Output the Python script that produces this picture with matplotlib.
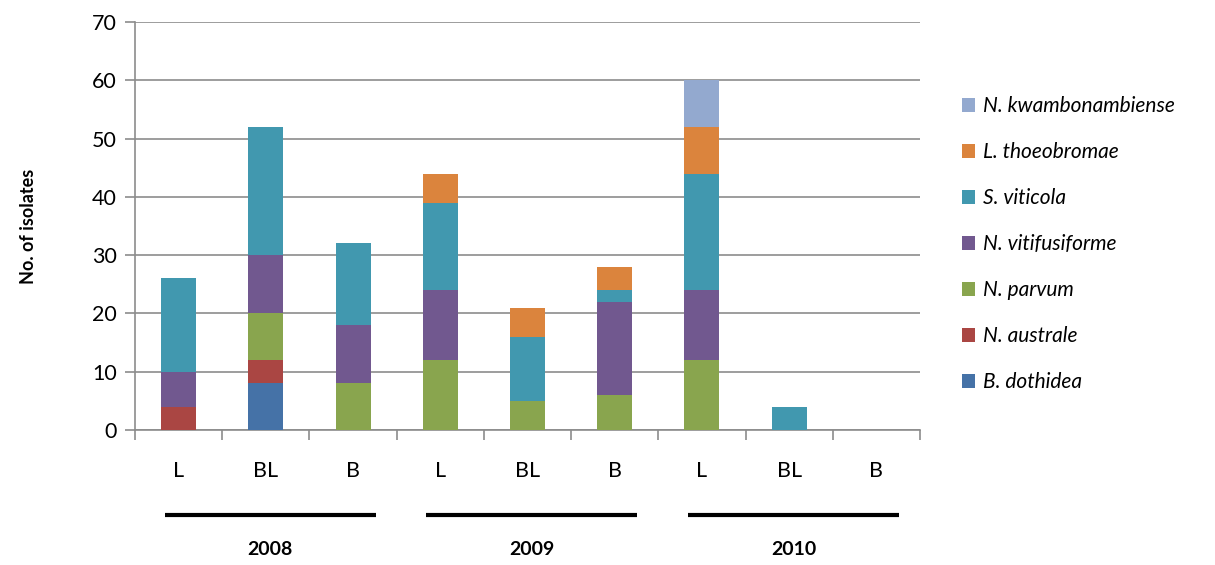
import numpy as np
import matplotlib.pyplot as plt
import matplotlib.transforms as mtransforms

plt.rcParams['font.family'] = ['Lato', 'DejaVu Sans']

categories = ['L', 'BL', 'B', 'L', 'BL', 'B', 'L', 'BL', 'B']
years = ['2008', '2009', '2010']

species = ['B. dothidea', 'N. australe', 'N. parvum', 'N. vitifusiforme',
           'S. viticola', 'L. thoeobromae', 'N. kwambonambiense']
b_dothidea = [0, 8, 0, 0, 0, 0, 0, 0, 0]
n_australe = [4, 4, 0, 0, 0, 0, 0, 0, 0]
n_parvum = [0, 8, 8, 12, 5, 6, 12, 0, 0]
n_vitifusiforme = [6, 10, 10, 12, 0, 16, 12, 0, 0]
s_viticola = [16, 22, 14, 15, 11, 2, 20, 4, 0]
l_thoeobromae = [0, 0, 0, 5, 5, 4, 8, 0, 0]
n_kwambonambiense = [0, 0, 0, 0, 0, 0, 8, 0, 0]

series = [b_dothidea, n_australe, n_parvum, n_vitifusiforme,
          s_viticola, l_thoeobromae, n_kwambonambiense]
colors = ['#4572A7', '#AA4643', '#89A54E', '#71588F',
          '#4198AF', '#DB843D', '#93A9CF']

fig = plt.figure(figsize=(12.15, 5.65), dpi=100)
ax = fig.add_axes([135 / 1215, 135 / 565, 785 / 1215, 408 / 565])

x = np.arange(len(categories))
bottom = np.zeros(len(categories))
for name, vals, c in zip(species, series, colors):
    ax.bar(x, vals, 0.4, bottom=bottom, color=c, label=name, zorder=3)
    bottom += np.array(vals)

ax.set_xlim(-0.5, 8.5)
ax.set_ylim(0, 70)
ax.set_yticks(range(0, 71, 10))
ax.yaxis.grid(True, color='#8c8c8c', linewidth=1.2, zorder=0)
ax.set_xticks(np.arange(-0.5, 9, 1))
ax.set_xticklabels([])
ax.set_xticks(x, minor=True)
ax.set_xticklabels(categories, minor=True, fontsize=15.5)
ax.tick_params(axis='x', which='minor', length=0, pad=22)
ax.tick_params(axis='x', which='major', length=7, width=1.2, color='#8c8c8c')
ax.tick_params(axis='y', length=7, width=1.2, color='#8c8c8c', labelsize=15.5, pad=6)
for s in ['top', 'right']:
    ax.spines[s].set_visible(False)
for s in ['left', 'bottom']:
    ax.spines[s].set_color('#8c8c8c')
    ax.spines[s].set_linewidth(1.2)

ax.set_ylabel('No. of isolates', fontsize=13, fontweight='bold', labelpad=40)

# year group bars under the category labels
trans = mtransforms.blended_transform_factory(ax.transData, ax.transAxes)
for i, yr in enumerate(years):
    c = 3 * i + 1.05
    ax.plot([c - 1.21, c + 1.21], [-0.208, -0.208], color='black', lw=3,
            transform=trans, clip_on=False, solid_capstyle='butt')
    ax.text(c, -0.294, yr, transform=trans, ha='center', va='center',
            fontsize=14, fontweight='bold')

handles, labels = ax.get_legend_handles_labels()
leg = fig.legend(handles[::-1], labels[::-1], loc='center left',
                 bbox_to_anchor=(943 / 1215, 1 - 244 / 565), frameon=False,
                 prop={'size': 15, 'style': 'italic'}, labelspacing=1.25,
                 handlelength=0.65, handleheight=0.65, handletextpad=0.35)

fig.savefig('out.png', dpi=100)
